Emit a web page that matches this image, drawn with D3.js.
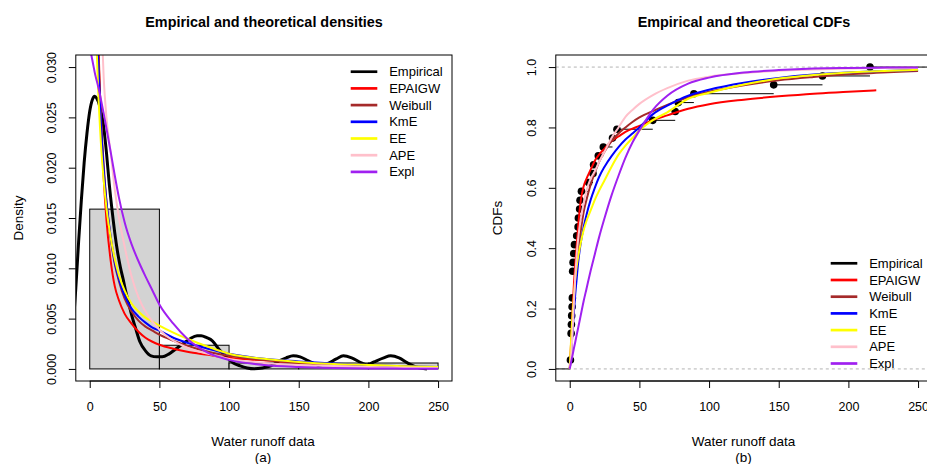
<!DOCTYPE html>
<html>
<head>
<meta charset="utf-8">
<script src="https://cdn.jsdelivr.net/npm/d3@7"></script>
<style>
  body { margin: 0; background: #fff; }
  text { font-family: "Liberation Sans", Arial, sans-serif; fill: #000; }
</style>
</head>
<body>
<div id="chart"></div>
<script>
const runoff = [0.5, 1.0, 1.0, 1.0, 1.2, 1.4, 1.7, 1.9, 2.1, 2.1, 2.1, 2.4, 2.9, 3.4,
  5.0, 6.0, 6.2, 7.1, 7.4, 8.4, 13.6, 16.7, 17.1, 20.5, 24.1, 30.7, 33.9,
  59.6, 75.7, 77.9, 89.1, 146.4, 181.4, 215.5];
const histBreaks = [0, 50, 100, 150, 200, 250];

const seriesNames = ["Empirical", "EPAIGW", "Weibull", "KmE", "EE", "APE", "Expl"];

// empirical (kernel) density, black curve
const kdeX = [-12, -10, -8, -6, -4, -2, 0, 2, 3.5, 5, 7, 9.5, 12, 14, 16, 18, 20, 22, 24, 26,
  28, 30, 33, 36, 40, 44, 48, 52, 57, 62, 67, 72, 77, 80, 84, 88, 93, 98, 103, 108,
  113, 118, 124, 130, 136, 141, 146, 151, 157, 164, 170, 177, 182, 188, 195, 199, 204, 211, 216, 222,
  228, 234, 242];
const kdeY = [0.004, 0.0080, 0.0126, 0.0168, 0.0205, 0.0234, 0.0256, 0.0268, 0.0271, 0.0269,
  0.0262, 0.0246, 0.0215, 0.0184, 0.0158, 0.0135, 0.0116, 0.0101, 0.0089, 0.0076,
  0.0065, 0.0054, 0.0040, 0.0027, 0.0018, 0.0013, 0.0012, 0.0012, 0.0015, 0.0020,
  0.0025, 0.0030, 0.0033, 0.0033, 0.0031, 0.0028, 0.0019, 0.0012, 0.0006, 0.0003,
  0.0001, 0.00002, 0.0001, 0.0003, 0.0008, 0.0011, 0.0013, 0.0012, 0.0008, 0.0004,
  0.0005, 0.0010, 0.0013, 0.0011, 0.0006, 0.0004, 0.0007, 0.0011, 0.0013, 0.0011,
  0.0006, 0.0002, 0.0];

// fitted densities
const pdfX = [0, 2, 4, 6, 8, 10, 12, 15, 18, 21, 25, 30, 35, 40, 45, 50, 60, 70, 85, 100, 125, 150, 175, 200, 220, 250];
const pdfEPAIGW = [0.2, 0.09, 0.052, 0.034, 0.025, 0.019, 0.0148, 0.0108, 0.0082, 0.0068, 0.0055, 0.0045, 0.0037, 0.0031, 0.0027, 0.0024, 0.0020, 0.0017, 0.0014, 0.0011, 0.00085, 0.0006, 0.00045, 0.00035, 0.00027, null];
const pdfWeibull = [0.1, 0.06, 0.041, 0.032, 0.0252, 0.0203, 0.0167, 0.0130, 0.0104, 0.0087, 0.0070, 0.0057, 0.0048, 0.0042, 0.0038, 0.0034, 0.0028, 0.0023, 0.0017, 0.0013, 0.0009, 0.0006, 0.00045, 0.00032, 0.00025, 0.00017];
const pdfKmE = [0.1, 0.06, 0.040, 0.031, 0.0245, 0.0198, 0.0166, 0.0132, 0.0106, 0.0089, 0.0073, 0.0060, 0.0052, 0.0046, 0.0041, 0.0038, 0.0031, 0.0026, 0.0020, 0.0015, 0.0010, 0.00075, 0.00055, 0.0004, 0.0003, 0.0002];
const pdfEE = [0.09, 0.055, 0.037, 0.028, 0.0225, 0.0188, 0.016, 0.0131, 0.0109, 0.0093, 0.0078, 0.0065, 0.0057, 0.0051, 0.0047, 0.0043, 0.0036, 0.0030, 0.0022, 0.0015, 0.0010, 0.0007, 0.0005, 0.0004, 0.0003, 0.0002];
const pdfAPE = [0.2, 0.1, 0.065, 0.046, 0.036, 0.029, 0.025, 0.0215, 0.0178, 0.015, 0.0122, 0.0092, 0.0071, 0.0057, 0.0047, 0.0039, 0.0028, 0.0021, 0.0015, 0.0010, 0.0006, 0.0004, 0.0003, 0.0002, 0.00015, 0.0001];
const pdfExpl = [0.032, 0.0306, 0.0292, 0.0281, 0.0268, 0.0254, 0.0239, 0.0216, 0.0192, 0.0170, 0.0146, 0.0124, 0.0107, 0.0092, 0.0078, 0.0064, 0.0045, 0.0030, 0.0016, 0.0009, 0.0004, 0.0002, 0.0001, 0.00005, 0.00003, 0.00001];

// fitted CDFs
const cdfX = [0, 1, 2, 3, 4, 5, 6, 8, 10, 12, 15, 18, 21, 25, 30, 35, 40, 45, 50, 60, 70, 85, 100, 125, 150, 175, 200, 220, 250];
const cdfEPAIGW = [0, .09, .19, .28, .35, .41, .47, .56, .605, .63, .66, .69, .71, .73, .755, .77, .785, .796, .805, .825, .84, .862, .877, .892, .903, .912, .918, .923, null];
const cdfWeibull = [0, .05, .13, .21, .28, .34, .39, .46, .52, .56, .61, .65, .685, .72, .755, .78, .8, .818, .833, .855, .875, .9, .918, .94, .956, .967, .976, .981, .987];
const cdfKmE = [0, .05, .12, .19, .25, .3, .35, .42, .47, .51, .56, .6, .635, .67, .705, .735, .76, .78, .8, .845, .872, .905, .925, .948, .964, .975, .982, .986, .99];
const cdfEE = [0, .1, .18, .24, .3, .34, .37, .42, .46, .49, .525, .56, .59, .625, .67, .71, .74, .765, .79, .825, .85, .895, .915, .942, .962, .974, .982, .986, .991];
const cdfAPE = [0, .04, .12, .22, .31, .38, .43, .5, .55, .59, .63, .655, .685, .72, .765, .8, .835, .858, .878, .908, .93, .955, .968, .98, .988, .992, .995, .997, .998];
const cdfExpl = [0, .023, .045, .068, .09, .113, .135, .18, .225, .265, .325, .38, .435, .5, .575, .64, .7, .75, .79, .86, .905, .945, .965, .982, .99, .995, .997, .998, .999];

const colors = ["#000000", "#FF0000", "#A52A2A", "#0000FF", "#FFFF00", "#FFC0CB", "#A020F0"];

const width = 927, height = 464;
const svg = d3.select("#chart").append("svg")
  .attr("width", width).attr("height", height);

const plotTop = 55, plotBottom = 381;

// ---------- panel (a): densities ----------
const ax = d3.scaleLinear().domain([-10, 260]).range([75.8, 452]);
const ay = d3.scaleLinear().domain([-0.0012, 0.0312]).range([plotBottom, plotTop]);

svg.append("clipPath").attr("id", "clipA")
  .append("rect").attr("x", 75.8).attr("y", plotTop).attr("width", 452 - 75.8).attr("height", plotBottom - plotTop);

const gA = svg.append("g").attr("clip-path", "url(#clipA)");

const bins = d3.bin().domain([0, 250]).thresholds(histBreaks.slice(1, -1))(runoff);
gA.selectAll(".bar").data(bins).enter().append("rect")
  .attr("x", d => ax(d.x0))
  .attr("width", d => ax(d.x1) - ax(d.x0))
  .attr("y", d => ay(d.length / (runoff.length * (d.x1 - d.x0))))
  .attr("height", d => ay(0) - ay(d.length / (runoff.length * (d.x1 - d.x0))))
  .attr("fill", "#D3D3D3").attr("stroke", "#000").attr("stroke-width", 1);

const lineA = d3.line()
  .defined(d => d[1] != null)
  .x(d => ax(d[0])).y(d => ay(d[1]))
  .curve(d3.curveMonotoneX);

gA.append("path")
  .datum(kdeX.map((x, i) => [x, kdeY[i]]))
  .attr("d", lineA).attr("fill", "none").attr("stroke", colors[0]).attr("stroke-width", 3);

[pdfEPAIGW, pdfWeibull, pdfKmE, pdfEE, pdfAPE, pdfExpl].forEach((vals, k) => {
  gA.append("path")
    .datum(pdfX.map((x, i) => [x, vals[i]]))
    .attr("d", lineA).attr("fill", "none").attr("stroke", colors[k + 1]).attr("stroke-width", 2);
});

svg.append("rect").attr("x", 75.8).attr("y", plotTop).attr("width", 452 - 75.8).attr("height", plotBottom - plotTop)
  .attr("fill", "none").attr("stroke", "#000").attr("stroke-width", 1);

// axes
const xAxisA = svg.append("g").attr("transform", `translate(0,${plotBottom})`)
  .call(d3.axisBottom(ax).tickValues([0, 50, 100, 150, 200, 250]).tickSize(7).tickPadding(4));
const yAxisA = svg.append("g").attr("transform", "translate(75.8,0)")
  .call(d3.axisLeft(ay).tickValues([0, 0.005, 0.01, 0.015, 0.02, 0.025, 0.03]).tickFormat(d3.format(".3f")).tickSize(7));

// ---------- panel (b): CDFs ----------
const bx = d3.scaleLinear().domain([-10, 260]).range([555.8, 932]);
const by = d3.scaleLinear().domain([-0.04, 1.04]).range([plotBottom, plotTop]);

svg.append("clipPath").attr("id", "clipB")
  .append("rect").attr("x", 555.8).attr("y", plotTop).attr("width", 932 - 555.8).attr("height", plotBottom - plotTop);

const gB = svg.append("g").attr("clip-path", "url(#clipB)");

[0, 1].forEach(v => {
  gB.append("line").attr("x1", 555.8).attr("x2", 932).attr("y1", by(v)).attr("y2", by(v))
    .attr("stroke", "#B3B3B3").attr("stroke-dasharray", "3,3");
});

// empirical CDF from the observations
const knots = Array.from(new Set(runoff)).sort((a, b) => a - b);
const ecdf = knots.map(k => [k, runoff.filter(v => v <= k).length / runoff.length]);
const steps = [[-10, knots[0], 0]].concat(ecdf.map((d, i) => [d[0], i < ecdf.length - 1 ? ecdf[i + 1][0] : 260, d[1]]));

gB.selectAll(".step").data(steps).enter().append("line")
  .attr("x1", d => bx(d[0])).attr("x2", d => bx(d[1]))
  .attr("y1", d => by(d[2])).attr("y2", d => by(d[2]))
  .attr("stroke", "#000").attr("stroke-width", 1);

gB.selectAll(".pt").data(ecdf).enter().append("circle")
  .attr("cx", d => bx(d[0])).attr("cy", d => by(d[1])).attr("r", 3.8).attr("fill", "#000");

const lineB = d3.line()
  .defined(d => d[1] != null)
  .x(d => bx(d[0])).y(d => by(d[1]))
  .curve(d3.curveMonotoneX);

[cdfEPAIGW, cdfWeibull, cdfKmE, cdfEE, cdfAPE, cdfExpl].forEach((vals, k) => {
  gB.append("path")
    .datum(cdfX.map((x, i) => [x, vals[i]]))
    .attr("d", lineB).attr("fill", "none").attr("stroke", colors[k + 1]).attr("stroke-width", 2);
});

svg.append("rect").attr("x", 555.8).attr("y", plotTop).attr("width", 932 - 555.8).attr("height", plotBottom - plotTop)
  .attr("fill", "none").attr("stroke", "#000").attr("stroke-width", 1);

const xAxisB = svg.append("g").attr("transform", `translate(0,${plotBottom})`)
  .call(d3.axisBottom(bx).tickValues([0, 50, 100, 150, 200, 250]).tickSize(7).tickPadding(4));
const yAxisB = svg.append("g").attr("transform", "translate(555.8,0)")
  .call(d3.axisLeft(by).tickValues([0, 0.2, 0.4, 0.6, 0.8, 1.0]).tickFormat(d3.format(".1f")).tickSize(7));

// R style axes: horizontal x labels, rotated y labels
[xAxisA, xAxisB].forEach(g => {
  g.select(".domain").remove();
  g.selectAll("text").attr("font-size", 12.5).attr("dy", "0.71em").attr("y", 21);
});
[yAxisA, yAxisB].forEach(g => {
  g.select(".domain").remove();
  g.selectAll(".tick text")
    .attr("font-size", 12.5)
    .attr("text-anchor", "middle")
    .attr("x", null).attr("dy", null)
    .attr("transform", "translate(-19.5,0) rotate(-90)");
});
svg.append("line").attr("x1", ax(0)).attr("x2", ax(250)).attr("y1", plotBottom).attr("y2", plotBottom).attr("stroke", "#000");
svg.append("line").attr("x1", bx(0)).attr("x2", bx(250)).attr("y1", plotBottom).attr("y2", plotBottom).attr("stroke", "#000");

// titles and labels
svg.append("text").attr("x", 264).attr("y", 27).attr("text-anchor", "middle")
  .attr("font-size", 14.4).attr("font-weight", "bold").text("Empirical and theoretical densities");
svg.append("text").attr("x", 744).attr("y", 27).attr("text-anchor", "middle")
  .attr("font-size", 14.4).attr("font-weight", "bold").text("Empirical and theoretical CDFs");

svg.append("text").attr("x", 263).attr("y", 445.5).attr("text-anchor", "middle")
  .attr("font-size", 13.5).text("Water runoff data");
svg.append("text").attr("x", 263).attr("y", 461.5).attr("text-anchor", "middle")
  .attr("font-size", 13.5).text("(a)");
svg.append("text").attr("x", 743.5).attr("y", 445.5).attr("text-anchor", "middle")
  .attr("font-size", 13.5).text("Water runoff data");
svg.append("text").attr("x", 743.5).attr("y", 461.5).attr("text-anchor", "middle")
  .attr("font-size", 13.5).text("(b)");

svg.append("text").attr("transform", "translate(23,218) rotate(-90)").attr("text-anchor", "middle")
  .attr("font-size", 13.5).text("Density");
svg.append("text").attr("transform", "translate(502,218) rotate(-90)").attr("text-anchor", "middle")
  .attr("font-size", 13.5).text("CDFs");

// legends
function legend(x0, y0) {
  const g = svg.append("g");
  seriesNames.forEach((name, i) => {
    const y = y0 + i * 16.7;
    g.append("line").attr("x1", x0).attr("x2", x0 + 26.6).attr("y1", y).attr("y2", y)
      .attr("stroke", colors[i]).attr("stroke-width", 2.7);
    g.append("text").attr("x", x0 + 38.5).attr("y", y).attr("dy", "0.35em")
      .attr("font-size", 13).text(name);
  });
}
legend(350.7, 71.7);
legend(830.7, 263.3);
</script>
</body>
</html>
